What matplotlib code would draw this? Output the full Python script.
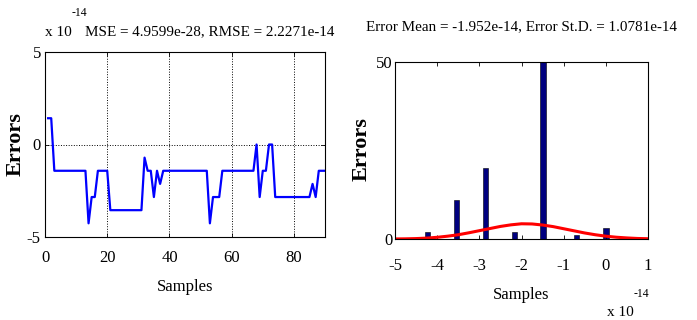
import matplotlib
matplotlib.use('Agg')
import matplotlib.pyplot as plt

plt.rcParams['font.family'] = ['Liberation Serif', 'DejaVu Serif']
plt.rcParams['axes.unicode_minus'] = False

# Errors per sample, in units of 1e-14
samples = list(range(1, 91))
q = 0.71
err_levels = {
    'p2': 2 * q, 'z': 0.0, 'm1': -q, 'm2': -2 * q, 'm3': -3 * q,
    'm4': -4 * q, 'm5': -5 * q, 'm6': -6 * q,
}
error_codes = (['p2'] * 2 + ['m2'] * 11 + ['m6'] + ['m4'] * 2 + ['m2'] * 4 +
               ['m5'] * 11 + ['m1'] + ['m2'] * 2 + ['m4'] + ['m2'] + ['m3'] +
               ['m2'] * 15 + ['m6'] + ['m4'] * 3 + ['m2'] * 11 + ['z'] +
               ['m4'] + ['m2'] * 2 + ['z'] * 2 + ['m4'] * 12 + ['m3'] +
               ['m4'] + ['m2'] * 3)
errors = [err_levels[c] for c in error_codes]

# Histogram (bin centres in units of 1e-14, counts)
hist_centers = [-4.23, -3.54, -2.85, -2.17, -1.49, -0.69, 0.0]
hist_counts = [2, 11, 20, 2, 50, 1, 3]

# Fitted normal curve
fit_x = [-5.0, -4.75, -4.5, -4.25, -4.0, -3.75, -3.5, -3.25, -3.0, -2.75,
         -2.5, -2.25, -2.0, -1.75, -1.5, -1.25, -1.0, -0.75, -0.5, -0.25,
         0.0, 0.25, 0.5, 0.75, 1.0]
fit_y = [0.02, 0.05, 0.12, 0.25, 0.48, 0.8, 1.2, 1.75, 2.35, 2.95,
         3.55, 4.0, 4.3, 4.25, 3.95, 3.5, 2.9, 2.3, 1.7, 1.2,
         0.8, 0.5, 0.3, 0.15, 0.08]

fig = plt.figure(figsize=(6.97, 3.2), dpi=100)
W, H = 697, 320

ax1 = fig.add_axes([45 / W, 1 - 237 / H, 280 / W, 185 / H])
ax2 = fig.add_axes([395 / W, 1 - 239 / H, 253 / W, 177 / H])

for ax in (ax1, ax2):
    ax.tick_params(direction='in', top=True, right=True, labelsize=12,
                   length=3, width=0.6)
    for s in ax.spines.values():
        s.set_linewidth(0.8)

# Left: error series
ax1.plot(samples, errors, color='blue', lw=1.6)
ax1.set_xlim(0, 90)
ax1.set_ylim(-5, 5)
ax1.set_xticks([0, 20, 40, 60, 80])
ax1.set_yticks([-5, 0, 5])
ax1.tick_params(axis='x', pad=9)
ax1.tick_params(axis='y', pad=3)
ax1.grid(True, linestyle=':', color='black', lw=0.7)
ax1.set_xlabel('Samples', fontsize=12)
ax1.set_ylabel('Errors', fontsize=16, fontweight='bold')
ax1.xaxis.set_label_coords(0.5, -0.225)
ax1.yaxis.set_label_coords(-0.071, 0.5)
fig.text(45 / W, 1 - 36 / H, 'x 10', fontsize=11, ha='left', va='baseline')
fig.text(72 / W, 1 - 16 / H, '-14', fontsize=8.5, ha='left', va='baseline')
fig.text(85 / W, 1 - 35 / H, 'MSE = 4.9599e-28, RMSE = 2.2271e-14',
         fontsize=10.9, ha='left', va='baseline')

# Right: histogram with fitted curve
ax2.bar(hist_centers, hist_counts, width=0.13, color='#00007f',
        edgecolor='black', lw=0.4)
ax2.plot(fit_x, fit_y, color='red', lw=2.2)
ax2.set_xlim(-5, 1)
ax2.set_ylim(0, 50)
ax2.set_xticks([-5, -4, -3, -2, -1, 0, 1])
ax2.set_yticks([0, 50])
ax2.tick_params(axis='x', pad=14)
ax2.tick_params(axis='y', pad=2)
ax2.set_xlabel('Samples', fontsize=12)
ax2.set_ylabel('Errors', fontsize=16, fontweight='bold')
ax2.xaxis.set_label_coords(0.5, -0.27)
ax2.yaxis.set_label_coords(-0.091, 0.51)
fig.text(607 / W, 1 - 316 / H, 'x 10', fontsize=11, ha='left', va='baseline')
fig.text(634 / W, 1 - 297 / H, '-14', fontsize=8.5, ha='left', va='baseline')
fig.text(521 / W, 1 - 30 / H,
         'Error Mean = -1.952e-14, Error St.D. = 1.0781e-14',
         fontsize=10.9, ha='center', va='baseline')

fig.savefig('out.png', dpi=100)
